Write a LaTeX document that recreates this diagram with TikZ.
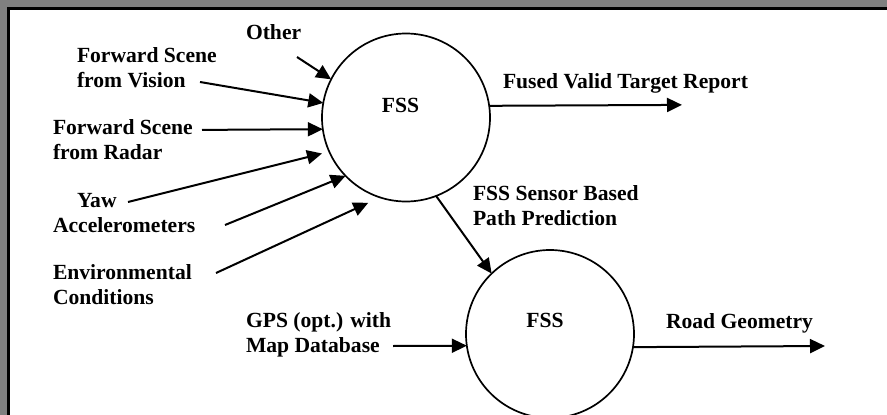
\documentclass[tikz,border=0pt]{standalone}
\usepackage{fontspec}
\setmainfont{Liberation Serif}
\usetikzlibrary{arrows.meta}

\definecolor{framegray}{RGB}{128,128,128}

\tikzset{
  lbl/.style={inner sep=0pt, outer sep=0pt, align=left, anchor=base west,
    font=\fontsize{21.6}{25}\selectfont\bfseries},
  proc/.style={circle, draw, line width=1.7pt, minimum size=168pt,
    inner sep=0pt, outer sep=0pt},
  flow/.style={line width=2pt, -{Triangle[length=15pt,width=14pt]}},
}

\begin{document}
\begin{tikzpicture}[x=1pt, y=-1pt]
  \useasboundingbox (0,0) rectangle (887,415);
  % window frame
  \fill[framegray] (0,0) rectangle (887,415);
  \fill[white] (9.5,9.5) rectangle (887,415);
  \draw[line width=2.2pt] (8.4,416) -- (8.4,8.4) -- (888,8.4);

  % processes
  \node[proc] (c1) at (406,117.5) {};
  \node[proc] (c2) at (550,334) {};
  \node[lbl, anchor=base] (f1) at (400.5,112) {FSS};
  \node[lbl, anchor=base] (f2) at (545,327) {FSS};

  % input labels (anchored on the baseline of their last line)
  \node[lbl] (other) at (246,39.5) {Other};
  \node[lbl] (vision) at (77,87.5) {Forward Scene\\from Vision};
  \node[lbl] (radar) at (53,159) {Forward Scene\\from Radar};
  \node[lbl] (yaw) at (53,232) {\hspace*{24pt}Yaw\\Accelerometers};
  \node[lbl] (env) at (53,304.5) {Environmental\\Conditions};
  \node[lbl] (gps) at (246,352) {GPS (opt.) with\\Map Database};

  % output labels
  \node[lbl] (fused) at (503,88) {Fused Valid Target Report};
  \node[lbl] (path) at (473,225.5) {FSS Sensor Based\\Path Prediction};
  \node[lbl] (road) at (666,328) {Road Geometry};

  % free ends of the flows
  \coordinate (sOther) at (297,57);
  \coordinate (sVision) at (200,82);
  \coordinate (sRadar) at (202,129.9);
  \coordinate (sYaw) at (128,202);
  \coordinate (sAcc) at (225,225);
  \coordinate (sEnv) at (216,273);
  \coordinate (sGps) at (393,346);
  \coordinate (eFused) at (682,104.9);
  \coordinate (eRoad) at (825,346);

  % flows into the first FSS
  \draw[flow] (sOther) -- (c1.153.7);
  \draw[flow] (sVision) -- (c1.170.9);
  \draw[flow] (sRadar) -- (c1.188.5);
  \draw[flow, shorten >=7.5pt] (sYaw) -- (c1.204.4);
  \draw[flow] (sAcc) -- (c1.224.3);
  \draw[flow, shorten >=13pt] (sEnv) -- (c1.252.1);

  % flows out of the first FSS
  \draw[flow] (c1.8.6) -- (eFused);
  \draw[flow] (c1.291.8) -- (c2.134.5);

  % second FSS
  \draw[flow] (sGps) -- (c2.188.2);
  \draw[flow] (c2.351.8) -- (eRoad);
\end{tikzpicture}
\end{document}
